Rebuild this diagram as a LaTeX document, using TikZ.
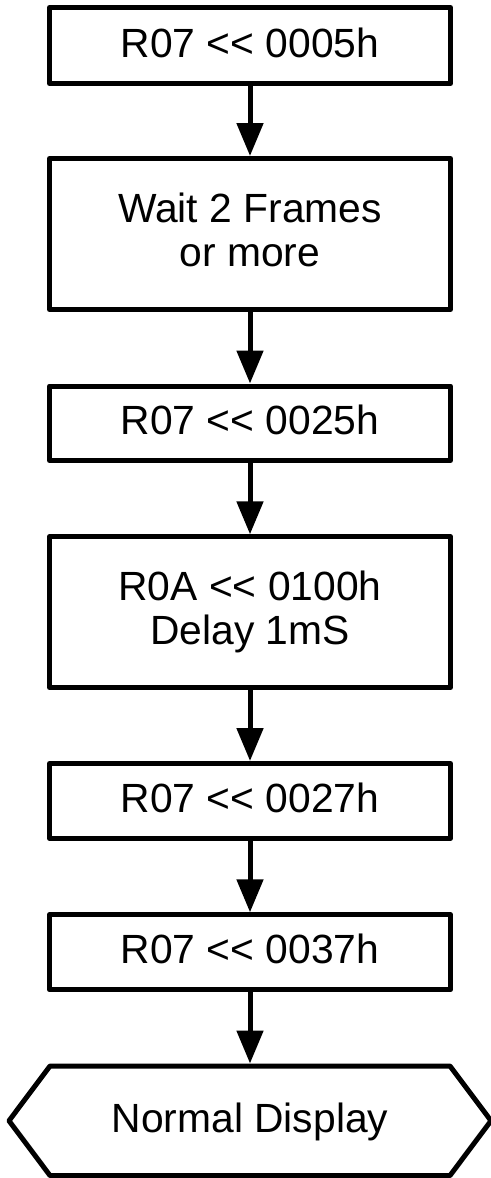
\documentclass[tikz,border=0pt]{standalone}
\usepackage{fontspec}
\newfontfamily\labfont{Liberation Sans}
\usetikzlibrary{arrows.meta}
\begin{document}
\begin{tikzpicture}[x=1pt,y=1pt,
  stepbox/.style={draw=black, line width=5pt, line join=round, rectangle,
    inner sep=0pt, minimum width=401pt, align=center,
    font=\labfont\fontsize{40.8}{44.5}\selectfont},
  oneline/.style={text height=29.2pt, text depth=6.2pt},
  twoline/.style={text height=80pt, text depth=14.4pt},
  hexnode/.style={rectangle, inner sep=0pt, outer sep=2.5pt,
    minimum width=400pt, minimum height=109.5pt, align=center,
    text height=29.2pt, text depth=6.2pt,
    font=\labfont\fontsize{40.8}{44.5}\selectfont},
  hexline/.style={draw=black, line width=5pt, line join=round},
  flow/.style={line width=5pt, -{Triangle[length=33pt,width=26pt]}}]
\useasboundingbox (0,0) rectangle (490,-1178);
\node[stepbox, oneline, minimum height=76pt]    (b1) at (250,-45.5)   {R07 << 0005h};
\node[stepbox, twoline, minimum height=151pt]   (b2) at (250,-234)    {Wait 2 Frames\\or more};
\node[stepbox, oneline, minimum height=74.5pt]  (b3) at (250,-423.25) {R07 << 0025h};
\node[stepbox, twoline, minimum height=150.7pt] (b4) at (250,-612.15) {R0A << 0100h\\Delay 1mS};
\node[stepbox, oneline, minimum height=74.8pt]  (b5) at (250,-800.9)  {R07 << 0027h};
\node[stepbox, oneline, minimum height=75pt]    (b6) at (250,-952.3)  {R07 << 0037h};
\node[hexnode] (hex) at (250,-1120.75) {Normal Display};
\draw[hexline] ([xshift=-200pt,yshift=54.75pt]hex.center) -- ([xshift=200pt,yshift=54.75pt]hex.center)
  -- ([xshift=241pt]hex.center) -- ([xshift=200pt,yshift=-54.75pt]hex.center)
  -- ([xshift=-200pt,yshift=-54.75pt]hex.center) -- ([xshift=-241pt]hex.center) -- cycle;
\draw[flow] (b1) -- (b2);
\draw[flow] (b2) -- (b3);
\draw[flow] (b3) -- (b4);
\draw[flow] (b4) -- (b5);
\draw[flow] (b5) -- (b6);
\draw[flow] (b6) -- (hex);
\end{tikzpicture}
\end{document}
